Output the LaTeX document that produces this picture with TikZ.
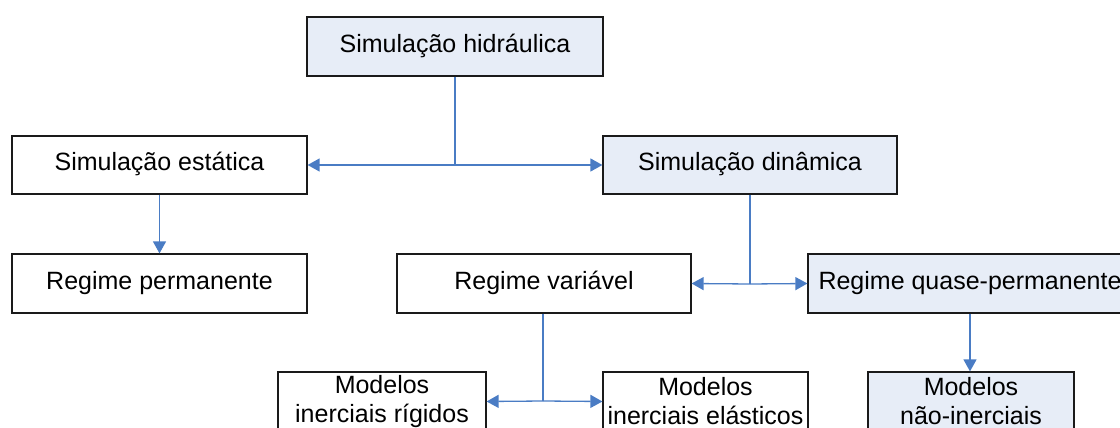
\documentclass[tikz,border=0pt]{standalone}
\usepackage{fontspec}
\setmainfont{Liberation Sans}
\usetikzlibrary{arrows.meta}
\definecolor{boxblue}{HTML}{E7EDF7}
\definecolor{linkblue}{HTML}{4A7CC4}
\definecolor{edgegray}{HTML}{1A1A1A}
\begin{document}
\begin{tikzpicture}[x=1pt,y=-1pt,
  box/.style={draw=edgegray,line width=1.2pt,fill=white,inner sep=0pt,
    font=\fontsize{25}{29}\selectfont},
  one/.style={text height=18pt,text depth=6.5pt},
  two/.style={align=center},
  bluebox/.style={box,fill=boxblue},
  link/.style={draw=linkblue,line width=1.3pt},
  arr/.style={link,-{Triangle[length=12pt,width=13pt]}}]
\useasboundingbox (0,0) rectangle (1120,428);
\node[bluebox,one,minimum width=296pt,minimum height=59pt] (hid) at (455,46.5) {Simulação hidráulica};
\node[box,one,minimum width=295pt,minimum height=58pt] (est) at (159.5,165) {Simulação estática};
\node[bluebox,one,minimum width=294pt,minimum height=58pt] (din) at (750,165) {Simulação dinâmica};
\node[box,one,minimum width=295pt,minimum height=59pt] (perm) at (159.5,283.5) {Regime permanente};
\node[box,one,minimum width=294pt,minimum height=59pt] (var) at (544,283.5) {Regime variável};
\node[bluebox,one,minimum width=324pt,minimum height=59pt] (quase) at (970,283.5) {Regime quase-permanente};
\node[box,two,minimum width=208pt,minimum height=59pt] (rig) at (382,401.5) {Modelos\\inerciais rígidos};
\node[box,two,minimum width=205pt,minimum height=59pt] (ela) at (705.5,401.5) {Modelos\\inerciais elásticos};
\node[bluebox,two,minimum width=206pt,minimum height=59pt] (nin) at (971,401.5) {Modelos\\não-inerciais};
\coordinate (j1) at (455,165);
\coordinate (j2) at (750,284);
\coordinate (j3) at (543,401);
\draw[link] (hid.south) -- (j1);
\draw[arr] (j1) -- (est.east);
\draw[arr] (j1) -- (din.west);
\draw[arr] (est.south) -- (perm.north);
\draw[link] (din.south) -- (j2);
\draw[arr] (j2) -- (var.east);
\draw[arr] (j2) -- (quase.west);
\draw[link] (var.south -| j3) -- (j3);
\draw[arr] (j3) -- (rig.east);
\draw[arr] (j3) -- (ela.west);
\draw[arr] (quase.south) -- (quase.south |- nin.north);
\end{tikzpicture}
\end{document}
